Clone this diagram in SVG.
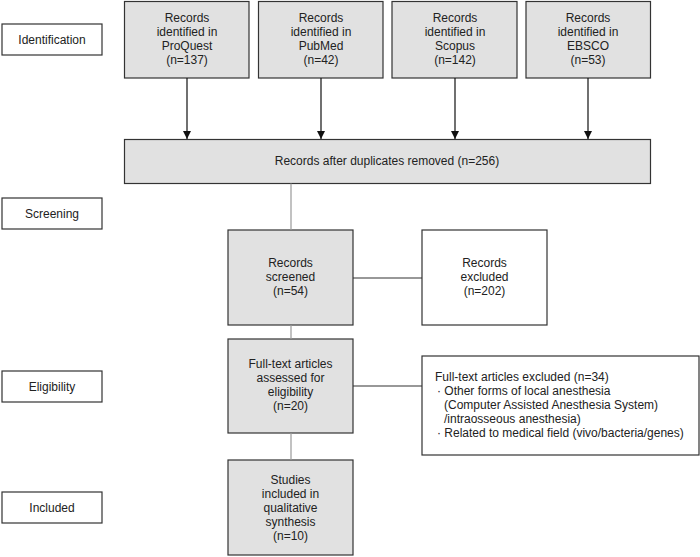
<svg xmlns="http://www.w3.org/2000/svg" width="700" height="557" viewBox="0 0 700 557">
<defs>
<style>
text{font-family:"Liberation Sans",Arial,sans-serif;font-size:12px;fill:#222;text-anchor:middle}
.lab rect{fill:#fff;stroke:#333;stroke-width:1.2}
.g rect{fill:#e1e1e1;stroke:#333;stroke-width:1.2}
.w rect{fill:#fff;stroke:#333;stroke-width:1.2}
.ar{stroke:#111;stroke-width:1.2;fill:none;marker-end:url(#ah)}
.gl{stroke:#999;stroke-width:1.2;fill:none}
.bl{stroke:#333;stroke-width:1.2;fill:none}
.lt{text-anchor:start}
</style>
<marker id="ah" viewBox="0 0 10 10" refX="10" refY="5" markerWidth="8" markerHeight="8" markerUnits="userSpaceOnUse" orient="auto">
<path d="M0,0 L10,5 L0,10 z" fill="#111"/>
</marker>
</defs>
<g id="label-identification" class="lab"><rect x="2" y="24" width="100" height="31"/><text x="52" y="44">Identification</text></g>
<g id="label-screening" class="lab"><rect x="2" y="198" width="100" height="31"/><text x="52" y="218">Screening</text></g>
<g id="label-eligibility" class="lab"><rect x="2" y="371" width="100" height="31"/><text x="52" y="391">Eligibility</text></g>
<g id="label-included" class="lab"><rect x="2" y="492" width="100" height="31"/><text x="52" y="512">Included</text></g>

<g id="proquest" class="g"><rect x="124.5" y="1.5" width="124.5" height="76.5"/><text x="187" y="22">Records</text><text x="187" y="36">identified in</text><text x="187" y="50">ProQuest</text><text x="187" y="64">(n=137)</text></g>
<g id="pubmed" class="g"><rect x="258.5" y="1.5" width="124.5" height="76.5"/><text x="321" y="22">Records</text><text x="321" y="36">identified in</text><text x="321" y="50">PubMed</text><text x="321" y="64">(n=42)</text></g>
<g id="scopus" class="g"><rect x="392" y="1.5" width="125" height="76.5"/><text x="455" y="22">Records</text><text x="455" y="36">identified in</text><text x="455" y="50">Scopus</text><text x="455" y="64">(n=142)</text></g>
<g id="ebsco" class="g"><rect x="526" y="1.5" width="124.5" height="76.5"/><text x="588" y="22">Records</text><text x="588" y="36">identified in</text><text x="588" y="50">EBSCO</text><text x="588" y="64">(n=53)</text></g>

<g id="duplicates" class="g"><rect x="124.5" y="139.5" width="526" height="44"/><text x="387" y="165">Records after duplicates removed (n=256)</text></g>

<g id="screened" class="g"><rect x="228" y="230" width="125" height="95"/><text x="290.5" y="267">Records</text><text x="290.5" y="281">screened</text><text x="290.5" y="295">(n=54)</text></g>
<g id="excluded" class="w"><rect x="422" y="230" width="125" height="95"/><text x="484.5" y="267">Records</text><text x="484.5" y="281">excluded</text><text x="484.5" y="295">(n=202)</text></g>

<g id="fulltext" class="g"><rect x="228" y="339" width="125" height="94"/><text x="290.5" y="368">Full-text articles</text><text x="290.5" y="382">assessed for</text><text x="290.5" y="396">eligibility</text><text x="290.5" y="410">(n=20)</text></g>
<g id="ft-excluded" class="w"><rect x="422" y="356" width="277" height="99"/>
<text class="lt" x="435" y="381">Full-text articles excluded (n=34)</text>
<text class="lt" x="437" y="395">· Other forms of local anesthesia</text>
<text class="lt" x="444" y="409">(Computer Assisted Anesthesia System)</text>
<text class="lt" x="444" y="423">/intraosseous anesthesia)</text>
<text class="lt" x="437" y="437">· Related to medical field (vivo/bacteria/genes)</text>
</g>

<g id="included" class="g"><rect x="228" y="460" width="125" height="95"/><text x="290.5" y="484">Studies</text><text x="290.5" y="498">included in</text><text x="290.5" y="512">qualitative</text><text x="290.5" y="526">synthesis</text><text x="290.5" y="540">(n=10)</text></g>

<g id="connectors">
<line class="ar" x1="187" y1="78" x2="187" y2="139"/>
<line class="ar" x1="321" y1="78" x2="321" y2="139"/>
<line class="ar" x1="455" y1="78" x2="455" y2="139"/>
<line class="ar" x1="588" y1="78" x2="588" y2="139"/>
<line class="gl" x1="291" y1="183.5" x2="291" y2="230"/>
<line class="gl" x1="291" y1="325" x2="291" y2="339"/>
<line class="gl" x1="291" y1="433" x2="291" y2="460"/>
<line class="bl" x1="353" y1="278" x2="422" y2="278"/>
<line class="bl" x1="353" y1="386" x2="422" y2="386"/>
</g>
</svg>
